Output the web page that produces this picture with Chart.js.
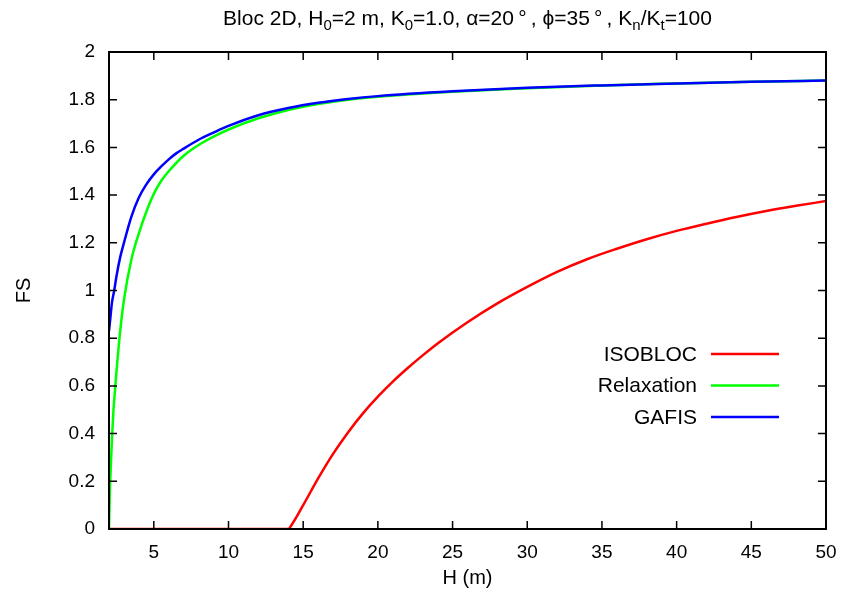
<!DOCTYPE html>
<html>
<head>
<meta charset="utf-8">
<script src="https://cdn.jsdelivr.net/npm/chart.js@4.4.1/dist/chart.umd.min.js"></script>
<style>
html,body{margin:0;padding:0;background:#fff;}
</style>
</head>
<body>
<canvas id="mychart" width="843" height="599"></canvas>
<script>
// H (m) / FS
var h_isobloc = [2, 14, 14.2, 15, 16, 17, 18, 19, 20, 21, 22, 23, 24, 26, 28, 30, 32, 34, 36, 38, 40, 42, 44, 46, 48, 50];
var fs_isobloc = [0, 0, 0.015, 0.1, 0.212, 0.315, 0.405, 0.485, 0.555, 0.618, 0.675, 0.728, 0.778, 0.867, 0.946, 1.015, 1.078, 1.131, 1.175, 1.215, 1.25, 1.28, 1.308, 1.333, 1.355, 1.375];

var h_relax = [2, 2.05, 2.1, 2.2, 2.3, 2.4, 2.5, 2.75, 3, 3.5, 4, 4.5, 5, 5.5, 6, 7, 8, 9, 10, 12, 14, 16, 18, 20, 25, 30, 35, 40, 45, 50];
var fs_relax = [0, 0.14, 0.23, 0.38, 0.5, 0.58, 0.66, 0.83, 0.96, 1.13, 1.24, 1.33, 1.405, 1.46, 1.5, 1.565, 1.61, 1.645, 1.675, 1.722, 1.757, 1.782, 1.8, 1.812, 1.833, 1.848, 1.86, 1.868, 1.875, 1.88];

var h_gafis = [2, 2.1, 2.2, 2.35, 2.5, 2.75, 3, 3.5, 4, 4.5, 5, 5.5, 6, 6.5, 7, 8, 9, 10, 12, 14, 16, 18, 20, 25, 30, 35, 40, 45, 50];
var fs_gafis = [0.83, 0.89, 0.95, 1.0, 1.06, 1.14, 1.2, 1.31, 1.39, 1.445, 1.487, 1.52, 1.55, 1.575, 1.595, 1.632, 1.662, 1.69, 1.735, 1.765, 1.787, 1.803, 1.815, 1.835, 1.85, 1.86, 1.868, 1.875, 1.88];

var xTicks = [5, 10, 15, 20, 25, 30, 35, 40, 45, 50];
var yTicks = [0, 0.2, 0.4, 0.6, 0.8, 1, 1.2, 1.4, 1.6, 1.8, 2];

function pts(xs, ys){
    var out = [];
    for(let i=0;i<xs.length;i++){
        out.push({x: xs[i], y: ys[i]});
    }
    return out;
}

var FONT = "'Liberation Sans', Arial, Helvetica, sans-serif";
Chart.defaults.font.family = FONT;
Chart.defaults.color = "#000";

// gnuplot-like title with subscripts
var titlePlugin = {
    id: 'gnuTitle',
    afterDraw: function(chart){
        var ctx = chart.ctx, a = chart.chartArea;
        var parts = [
            ["Bloc 2D, H", 0], ["0", 1], ["=2 m, K", 0], ["0", 1],
            ["=1.0, \u03b1=20\u2009\u00b0\u2009, \u03d5=35\u2009\u00b0\u2009, K", 0], ["n", 1], ["/K", 0], ["t", 1], ["=100", 0]
        ];
        var big = "21px " + FONT, small = "15px " + FONT;
        ctx.save();
        var w = 0;
        parts.forEach(function(p){
            ctx.font = p[1] ? small : big;
            w += ctx.measureText(p[0]).width;
        });
        var x = (a.left + a.right) / 2 - w / 2;
        var y = 25;
        ctx.fillStyle = "#000";
        ctx.textBaseline = "alphabetic";
        ctx.textAlign = "left";
        parts.forEach(function(p){
            ctx.font = p[1] ? small : big;
            ctx.fillText(p[0], x, p[1] ? y + 5 : y);
            x += ctx.measureText(p[0]).width;
        });
        ctx.restore();
    }
};

// box border with inward ticks on all four sides
var framePlugin = {
    id: 'frame',
    afterDatasetsDraw: function(chart){
        var ctx = chart.ctx, a = chart.chartArea;
        var sx = chart.scales.x, sy = chart.scales.y;
        ctx.save();
        ctx.strokeStyle = "#000";
        ctx.lineWidth = 1.5;
        ctx.beginPath();
        sx.ticks.forEach(function(t){
            var px = sx.getPixelForValue(t.value);
            ctx.moveTo(px, a.bottom); ctx.lineTo(px, a.bottom - 8);
            ctx.moveTo(px, a.top); ctx.lineTo(px, a.top + 8);
        });
        sy.ticks.forEach(function(t){
            var py = sy.getPixelForValue(t.value);
            ctx.moveTo(a.left, py); ctx.lineTo(a.left + 8, py);
            ctx.moveTo(a.right, py); ctx.lineTo(a.right - 8, py);
        });
        ctx.stroke();
        ctx.lineWidth = 2;
        ctx.strokeRect(a.left, a.top, a.right - a.left, a.bottom - a.top);
        ctx.restore();
    }
};

// key inside the plot: label on the left, line sample on the right
var keyPlugin = {
    id: 'gnuKey',
    afterDraw: function(chart){
        var ctx = chart.ctx, a = chart.chartArea;
        ctx.save();
        ctx.font = "21px " + FONT;
        ctx.textAlign = "right";
        ctx.textBaseline = "middle";
        chart.data.datasets.forEach(function(ds, i){
            var y = a.top + 302 + i * 31.5;
            ctx.fillStyle = "#000";
            ctx.fillText(ds.label, a.right - 129, y + 1);
            ctx.strokeStyle = ds.borderColor;
            ctx.lineWidth = ds.borderWidth;
            ctx.beginPath();
            ctx.moveTo(a.right - 115, y);
            ctx.lineTo(a.right - 47, y);
            ctx.stroke();
        });
        ctx.restore();
    }
};

var mychart = document.getElementById("mychart").getContext('2d');

var chart = new Chart(mychart,{
    type:'line',
    data:{
        datasets:[
            {
                label:"ISOBLOC",
                data: pts(h_isobloc, fs_isobloc),
                borderColor:"#ff0000",
                borderWidth:2.5,
                order:3
            },
            {
                label:"Relaxation",
                data: pts(h_relax, fs_relax),
                borderColor:"#00ff00",
                borderWidth:2.5,
                order:2
            },
            {
                label:"GAFIS",
                data: pts(h_gafis, fs_gafis),
                borderColor:"#0000ff",
                borderWidth:2.5,
                order:1
            }
        ]
    },
    options:{
        responsive:false,
        animation:false,
        devicePixelRatio:1,
        layout:{padding:{top:52, right:17, left:0, bottom:0}},
        elements:{
            point:{radius:0},
            line:{cubicInterpolationMode:'monotone', fill:false}
        },
        plugins:{
            legend:{display:false},
            title:{display:false},
            tooltip:{enabled:false}
        },
        scales:{
            x:{
                type:'linear',
                min:2,
                max:50,
                grid:{display:false, drawTicks:false},
                border:{display:false},
                afterBuildTicks:function(scale){
                    scale.ticks = xTicks.map(function(v){ return {value:v}; });
                },
                afterFit:function(scale){
                    scale.height = 70;
                    scale.paddingLeft = 0;
                    scale.paddingRight = 0;
                },
                ticks:{
                    font:{size:19},
                    padding:12,
                    maxRotation:0,
                    callback:function(v){ return String(v); }
                },
                title:{
                    display:true,
                    text:"H (m)",
                    font:{size:20},
                    padding:{top:0, bottom:9}
                }
            },
            y:{
                min:0,
                max:2,
                grid:{display:false, drawTicks:false},
                border:{display:false},
                afterBuildTicks:function(scale){
                    scale.ticks = yTicks.map(function(v){ return {value:v}; });
                },
                afterFit:function(scale){
                    scale.width = 109;
                    scale.paddingTop = 0;
                    scale.paddingBottom = 0;
                },
                ticks:{
                    font:{size:19},
                    padding:14,
                    callback:function(v){ return String(v); }
                },
                title:{
                    display:true,
                    text:"FS",
                    font:{size:20},
                    padding:{top:12, bottom:0}
                }
            }
        }
    },
    plugins:[titlePlugin, framePlugin, keyPlugin]
});
</script>
</body>
</html>
